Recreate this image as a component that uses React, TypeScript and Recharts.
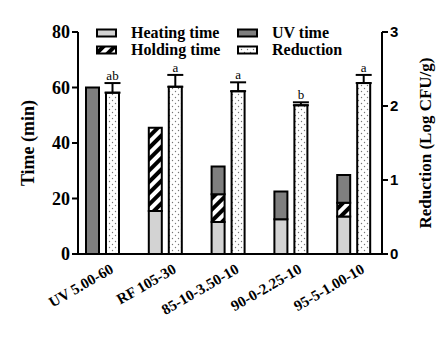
import React from 'react';
import {
  Bar,
  BarChart,
  ErrorBar,
  LabelList,
  Legend,
  XAxis,
  YAxis,
} from 'recharts';

const categories = ['UV 5.00-60', 'RF 105-30', '85-10-3.50-10', '90-0-2.25-10', '95-5-1.00-10'];
const heatingTime = [0, 15.5, 11.5, 12.5, 13.5];
const holdingTime = [0, 30, 10, 0, 5];
const uvTime = [60, 0, 10, 10, 10];
const reduction = [2.18, 2.26, 2.2, 2.01, 2.31];
const reductionSd = [0.13, 0.16, 0.12, 0.04, 0.11];
const letters = ['ab', 'a', 'a', 'b', 'a'];
const timeTicks = [0, 20, 40, 60, 80];
const reductionTicks = [0, 1, 2, 3];

const data = categories.map((name, i) => ({
  name,
  heating: heatingTime[i],
  holding: holdingTime[i],
  uv: uvTime[i],
  reduction: reduction[i],
  sd: [0, reductionSd[i]],
}));

const SERIF = '"Liberation Serif", "Times New Roman", serif';
const SANS = '"Liberation Sans", Arial, sans-serif';
const HEAT = '#d3d3d3';
const UV = '#7f7f7f';

const legendItems = [
  { label: 'Heating time', fill: HEAT, x: 97, y: 33 },
  { label: 'UV time', fill: UV, x: 238, y: 33 },
  { label: 'Holding time', fill: 'url(#hatch)', x: 97, y: 50 },
  { label: 'Reduction', fill: 'url(#dots)', x: 238, y: 50 },
];

const renderLegend = () => (
  <svg width={443} height={70} style={{ display: 'block' }}>
    {legendItems.map((it) => (
      <g key={it.label}>
        <rect x={it.x} y={it.y - 3.5} width={19} height={7} fill={it.fill} stroke="#000" strokeWidth={2} />
        <text x={it.x + 34} y={it.y + 5} fontFamily={SERIF} fontWeight="bold" fontSize={16} fill="#000">
          {it.label}
        </text>
      </g>
    ))}
  </svg>
);

const renderXTick = ({ x, y, payload }: any) => {
  const ax = x + 12;
  const ay = y + 10;
  return (
    <text
      x={ax}
      y={ay}
      transform={`rotate(-30, ${ax}, ${ay})`}
      textAnchor="end"
      fontFamily={SERIF}
      fontWeight="bold"
      fontSize={15}
      fill="#000"
    >
      {payload.value}
    </text>
  );
};

// letters sit just above the error-bar cap
const renderLetter = (props: any) => {
  const { x, y, width, height, index, value } = props;
  const pxPerUnit = height / value;
  const capY = y - reductionSd[index] * pxPerUnit;
  return (
    <text x={x + width / 2} y={capY - 3} textAnchor="middle" fontFamily={SERIF} fontSize={13} fill="#000">
      {letters[index]}
    </text>
  );
};

const App = () => (
  <div style={{ position: 'absolute', left: 0, top: 0, width: 443, height: 337, background: '#fff' }}>
    <BarChart
      width={443}
      height={337}
      data={data}
      margin={{ top: 32, right: 11, bottom: 53, left: 18 }}
      barSize={13}
      barGap={7}
    >
      <defs>
        <pattern id="hatch" width={8} height={8} patternUnits="userSpaceOnUse" patternTransform="rotate(45)">
          <rect width={8} height={8} fill="#fff" />
          <rect width={4} height={8} fill="#000" />
        </pattern>
        <pattern id="dots" width={6} height={6} patternUnits="userSpaceOnUse">
          <rect width={6} height={6} fill="#fff" />
          <circle cx={1.5} cy={1.5} r={0.7} fill="#777" />
          <circle cx={4.5} cy={4.5} r={0.7} fill="#777" />
        </pattern>
      </defs>
      <XAxis
        dataKey="name"
        xAxisId="x"
        padding={{ left: -7, right: -3 }}
        axisLine={{ stroke: '#000', strokeWidth: 2 }}
        tickLine={false}
        tick={renderXTick}
        interval={0}
        height={30}
      />
      <YAxis
        yAxisId="time"
        domain={[0, 80]}
        ticks={timeTicks}
        width={60}
        axisLine={{ stroke: '#000', strokeWidth: 2 }}
        tickLine={{ stroke: '#000', strokeWidth: 2 }}
        tickSize={6}
        tick={{ fontFamily: SERIF, fontWeight: 'bold', fontSize: 18, fill: '#000' }}
        label={{
          value: 'Time (min)',
          angle: -90,
          position: 'center',
          dx: -20,
          style: { fontFamily: SERIF, fontWeight: 'bold', fontSize: 18, fill: '#000' },
        }}
      />
      <YAxis
        yAxisId="red"
        orientation="right"
        domain={[0, 3]}
        ticks={reductionTicks}
        width={50}
        axisLine={{ stroke: '#000', strokeWidth: 2 }}
        tickLine={{ stroke: '#000', strokeWidth: 2 }}
        tickSize={6}
        tick={{ fontFamily: SANS, fontWeight: 'bold', fontSize: 15, fill: '#000' }}
        label={{
          value: 'Reduction (Log CFU/g)',
          angle: -90,
          position: 'center',
          dx: 18,
          style: { fontFamily: SERIF, fontWeight: 'bold', fontSize: 17, fill: '#000' },
        }}
      />
      <Legend layout="vertical" align="center" verticalAlign="middle" content={renderLegend} wrapperStyle={{ left: 0, top: 0, width: 443, height: 70, pointerEvents: 'none' }} />
      <Bar xAxisId="x" yAxisId="time" dataKey="heating" stackId="time" fill={HEAT} stroke="#000" strokeWidth={2} isAnimationActive={false} />
      <Bar xAxisId="x" yAxisId="time" dataKey="holding" stackId="time" fill="url(#hatch)" stroke="#000" strokeWidth={2} isAnimationActive={false} />
      <Bar xAxisId="x" yAxisId="time" dataKey="uv" stackId="time" fill={UV} stroke="#000" strokeWidth={2} isAnimationActive={false} />
      <Bar xAxisId="x" yAxisId="red" dataKey="reduction" fill="url(#dots)" stroke="#000" strokeWidth={2} isAnimationActive={false}>
        <ErrorBar dataKey="sd" direction="y" width={8} stroke="#000" strokeWidth={2} />
        <LabelList dataKey="reduction" content={renderLetter} />
      </Bar>
    </BarChart>
  </div>
);

export default App;
